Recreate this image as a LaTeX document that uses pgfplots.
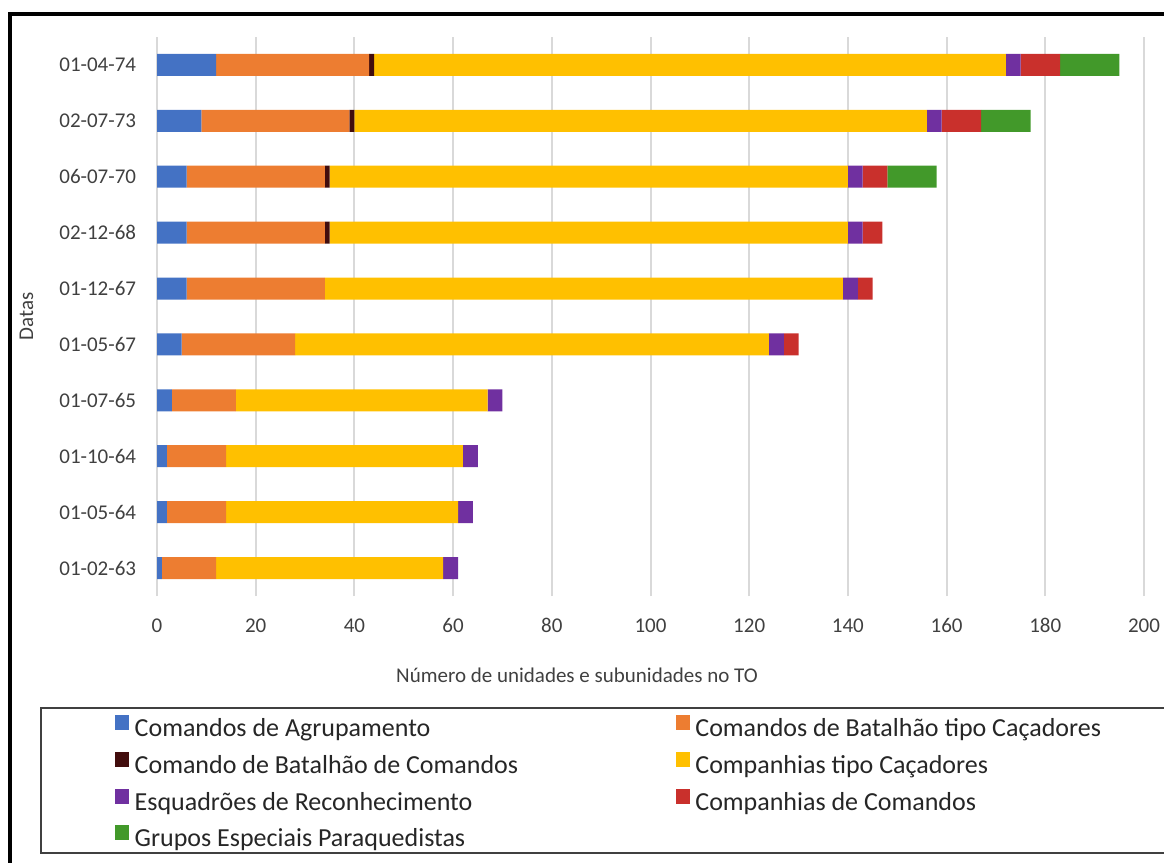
\documentclass[border=0pt]{standalone}
\usepackage{fontspec}
\setmainfont{Carlito}
\usepackage{pgfplots}
\usepackage{pgfplotstable}
\pgfplotsset{compat=1.18}

\definecolor{cAgr}{HTML}{4472C4}
\definecolor{cBat}{HTML}{ED7D31}
\definecolor{cCBC}{HTML}{420D0D}
\definecolor{cCac}{HTML}{FFC000}
\definecolor{cEsq}{HTML}{7030A0}
\definecolor{cCom}{HTML}{C9302C}
\definecolor{cGEP}{HTML}{42992A}
\definecolor{txt}{HTML}{404040}
\definecolor{gridc}{HTML}{D9D9D9}

% y: 0 = 01-02-63 ... 9 = 01-04-74
\pgfplotstableread{
y agr bat cbc cac esq com gep
0  1 11 0  46 3 0  0
1  2 12 0  47 3 0  0
2  2 12 0  48 3 0  0
3  3 13 0  51 3 0  0
4  5 23 0  96 3 3  0
5  6 28 0 105 3 3  0
6  6 28 1 105 3 4  0
7  6 28 1 105 3 5 10
8  9 30 1 116 3 8 10
9 12 31 1 128 3 8 12
}\datas

\begin{document}
\begin{tikzpicture}
\useasboundingbox (0,0) rectangle (582bp,431.5bp);
\clip (0,0) rectangle (582bp,431.5bp);
\draw[line width=2bp] (5bp,-5bp) -- (5bp,424.5bp) -- (600bp,424.5bp);
\draw[line width=1bp, black!75] (20.5bp,5bp) rectangle (600bp,77.5bp);
\begin{axis}[
  at={(78.5bp,133.5bp)}, anchor=south west,
  scale only axis, width=493.5bp, height=279.5bp,
  xbar stacked, bar width=11bp,
  xmin=0, xmax=200, ymin=-0.5, ymax=9.5,
  xtick={0,20,...,200},
  ytick={0,...,9},
  yticklabels={01-02-63,01-05-64,01-10-64,01-07-65,01-05-67,01-12-67,02-12-68,06-07-70,02-07-73,01-04-74},
  major tick length=0pt,
  axis line style={draw=none},
  xmajorgrids, ymajorgrids=false,
  major grid style={gridc, line width=1bp},
  /pgf/number format/assume math mode=true,
  ticklabel style={font=\fontsize{10.5bp}{12bp}\selectfont, text=txt, inner sep=0pt},
  xticklabel style={anchor=base, yshift=-18bp},
  yticklabel style={anchor=east, xshift=-10.25bp},
  xlabel={Número de unidades e subunidades no TO},
  xlabel style={at={(axis description cs:0.4255,0)}, anchor=base, yshift=-43bp,
    inner sep=0pt, font=\fontsize{10.5bp}{12bp}\selectfont, text=txt},
  ylabel={Datas},
  ylabel style={at={(axis description cs:-0.1256,0.5)}, anchor=base,
    inner sep=0pt, font=\fontsize{10.5bp}{12bp}\selectfont, text=txt},
  legend columns=2,
  legend cell align=left,
  legend image code/.code={\fill[#1] (0bp,0bp) rectangle (7.25bp,7.5bp);},
  legend style={at={(axis description cs:-0.04255,-0.2134)}, anchor=north west,
    draw=none, fill=none, inner sep=0pt, outer sep=0pt,
    row sep=4.6bp,
    font=\fontsize{13bp}{14bp}\selectfont, text=black!85,
    nodes={inner sep=0pt, text height=9.5bp, text depth=3bp},
    /tikz/every odd column/.append style={column sep=2.6bp}},
]
\addplot[fill=cAgr, draw=none] table[x=agr, y=y] {\datas};
\addlegendentry{\makebox[270.5bp][l]{Comandos de Agrupamento}}
\addplot[fill=cBat, draw=none] table[x=bat, y=y] {\datas};
\addlegendentry{Comandos de Batalhão tipo Caçadores}
\addplot[fill=cCBC, draw=none] table[x=cbc, y=y] {\datas};
\addlegendentry{\makebox[270.5bp][l]{Comando de Batalhão de Comandos}}
\addplot[fill=cCac, draw=none] table[x=cac, y=y] {\datas};
\addlegendentry{Companhias tipo Caçadores}
\addplot[fill=cEsq, draw=none] table[x=esq, y=y] {\datas};
\addlegendentry{\makebox[270.5bp][l]{Esquadrões de Reconhecimento}}
\addplot[fill=cCom, draw=none] table[x=com, y=y] {\datas};
\addlegendentry{Companhias de Comandos}
\addplot[fill=cGEP, draw=none] table[x=gep, y=y] {\datas};
\addlegendentry{\makebox[270.5bp][l]{Grupos Especiais Paraquedistas}}
\end{axis}
\end{tikzpicture}
\end{document}
